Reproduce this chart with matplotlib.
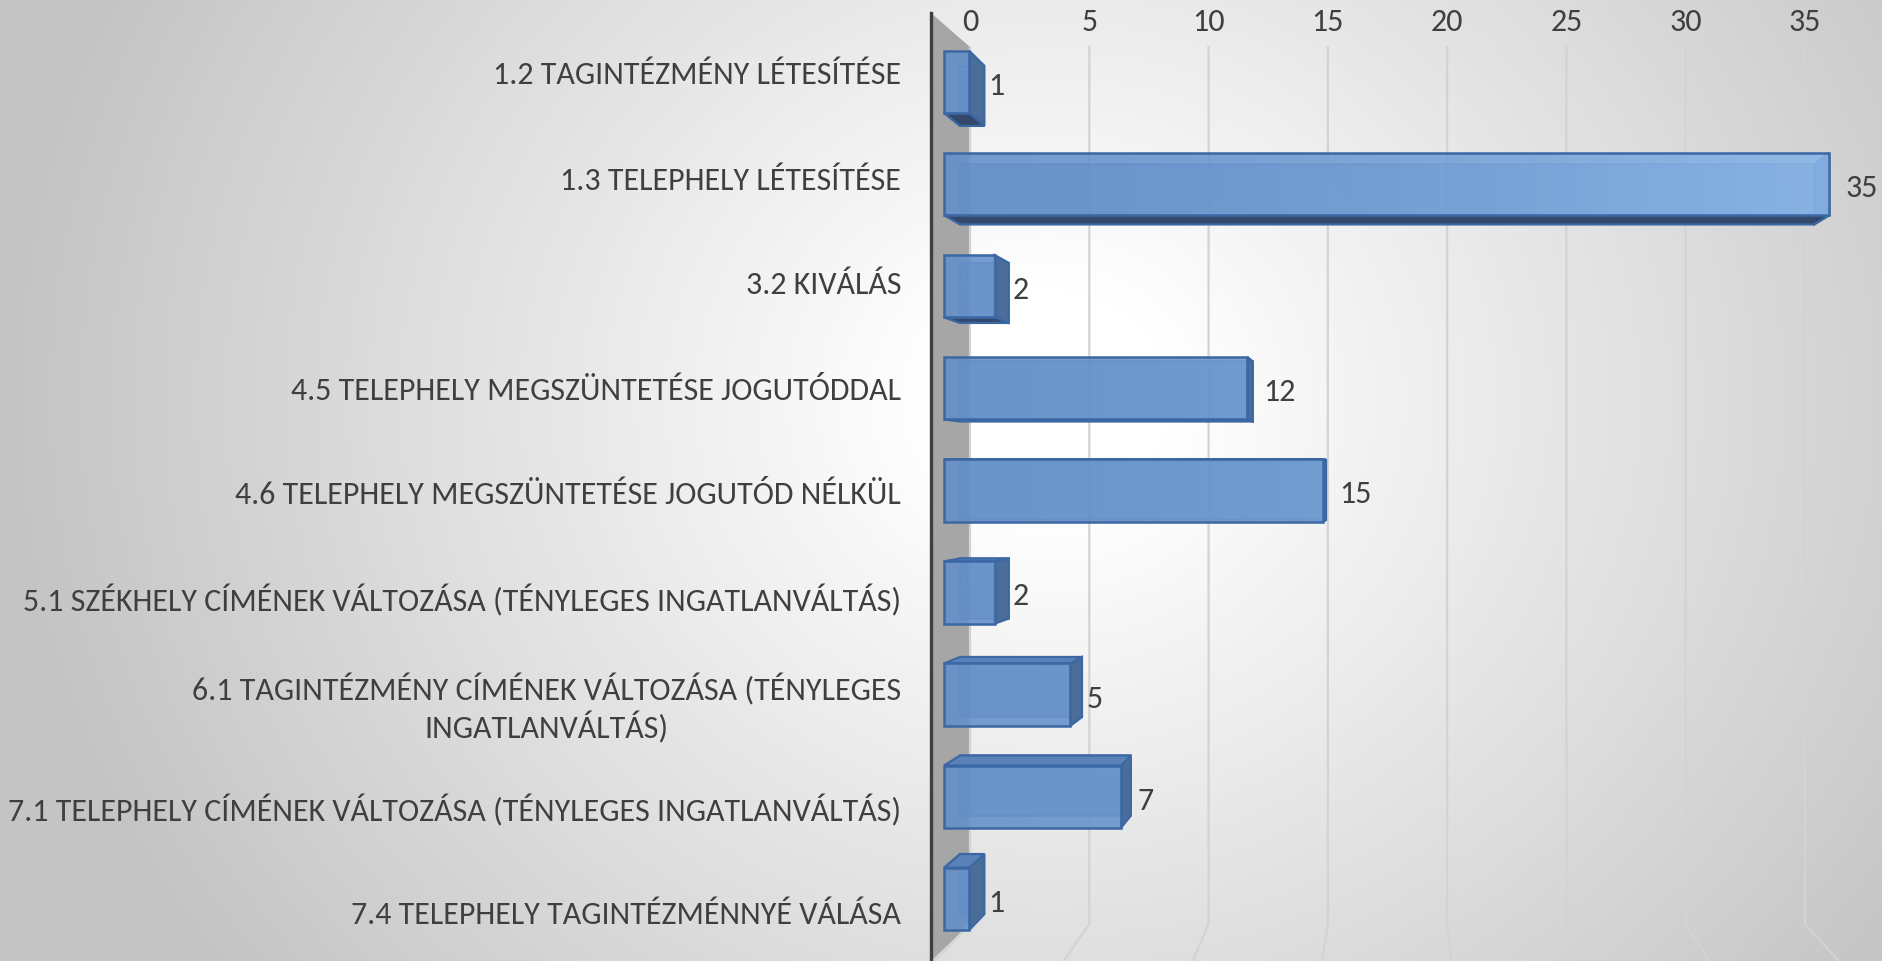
import numpy as np
import matplotlib
matplotlib.use("Agg")
import matplotlib.pyplot as plt
from matplotlib import font_manager
from matplotlib.colors import LinearSegmentedColormap
from matplotlib.patches import Polygon, Rectangle

# Data
categories = [
    "1.2 TAGINTÉZMÉNY LÉTESÍTÉSE",
    "1.3 TELEPHELY LÉTESÍTÉSE",
    "3.2 KIVÁLÁS",
    "4.5 TELEPHELY MEGSZÜNTETÉSE JOGUTÓDDAL",
    "4.6 TELEPHELY MEGSZÜNTETÉSE JOGUTÓD NÉLKÜL",
    "5.1 SZÉKHELY CÍMÉNEK VÁLTOZÁSA (TÉNYLEGES INGATLANVÁLTÁS)",
    "6.1 TAGINTÉZMÉNY CÍMÉNEK VÁLTOZÁSA (TÉNYLEGES\nINGATLANVÁLTÁS)",
    "7.1 TELEPHELY CÍMÉNEK VÁLTOZÁSA (TÉNYLEGES INGATLANVÁLTÁS)",
    "7.4 TELEPHELY TAGINTÉZMÉNNYÉ VÁLÁSA",
]
counts = [1, 35, 2, 12, 15, 2, 5, 7, 1]
x_ticks = [0, 5, 10, 15, 20, 25, 30, 35]

# Layout (pixels of the 1883x962 picture)
W, H = 1883, 962
AXIS_X, AXIS_TOP = 931, 14          # dark vertical axis line
WALL_TOP, FLOOR = 48, 925           # back wall top / floor line
X0_BACK, PX_BACK = 970, 23.857      # back plane: x of 0, px per unit
ROW0_BACK, ROW_BACK = 73, 105       # back plane: first row, row pitch
X0_FRONT, PX_FRONT = 944, 25.29     # front plane of the bars
ROW0_FRONT, ROW_FRONT = 83, 102.1
VP = (1400, 479)                    # vanishing point
BAR_DEPTH, WALL_DEPTH = 0.035, 0.057
BAR_H = 0.61

TEXT = "#3f3f3f"

# font: Calibri metric clone if present
installed = {f.name for f in font_manager.fontManager.ttflist}
font, fsize = "Lato", 22.5
for name, size in [("Carlito", 23), ("Lato", 22.5)]:
    if name in installed:
        font, fsize = name, size
        break
plt.rcParams["font.family"] = [font, "DejaVu Sans"]

fig = plt.figure(figsize=(W / 100, H / 100), dpi=100)

# background radial gradient
bg = fig.add_axes([0, 0, 1, 1], zorder=0)
yy, xx = np.mgrid[0:H, 0:W]
r = np.hypot(xx - 1050, (yy - 400) * 1.1)
t = np.clip((r - 120) / 920, 0, 1)
shade = 1 - 0.23 * t
bg.imshow(np.dstack([shade] * 3), extent=(0, W, H, 0), aspect="auto")
bg.set_xlim(0, W)
bg.set_ylim(H, 0)
bg.axis("off")

# back plane axes: x = value, y = category row
ax = fig.add_axes([AXIS_X / W, 0, 1 - AXIS_X / W, (H - AXIS_TOP) / H], zorder=1)
ax.set_facecolor("none")
ax.set_xlim((AXIS_X - X0_BACK) / PX_BACK, (W - X0_BACK) / PX_BACK)
ax.set_ylim((H - ROW0_BACK) / ROW_BACK, (AXIS_TOP - ROW0_BACK) / ROW_BACK)
wall_top = (WALL_TOP - ROW0_BACK) / ROW_BACK
floor = (FLOOR - ROW0_BACK) / ROW_BACK
x_left, _ = ax.get_xlim()
y_bottom, y_top = ax.get_ylim()

vpb = np.array([(VP[0] - X0_BACK) / PX_BACK, (VP[1] - ROW0_BACK) / ROW_BACK])

# grey side wall
ax.add_patch(Polygon([(x_left, y_top), (0, wall_top), (0, floor), (x_left, y_bottom)],
                     closed=True, facecolor="#a6a6a6", edgecolor="none", zorder=1))

# gridlines on the back wall, bending onto the floor
for v in x_ticks:
    back = np.array([v, floor])
    front = vpb + (back - vpb) / (1 - 2 * WALL_DEPTH)
    ax.plot([v, v, front[0]], [wall_top, floor, front[1]], color="#d3d3d3",
            lw=1.6, zorder=2, solid_joinstyle="miter")

ax.xaxis.tick_top()
ax.set_xticks(x_ticks)
ax.set_xticklabels([str(v) for v in x_ticks])
ax.tick_params(axis="x", length=0, pad=-16, labelsize=fsize, labelcolor=TEXT)
ax.set_yticks(range(len(categories)))
ax.set_yticklabels(categories)
ax.tick_params(axis="y", length=0, pad=21.5, labelsize=fsize, labelcolor=TEXT)
for lbl in ax.get_yticklabels():
    lbl.set_multialignment("center")
for side in ["top", "right", "bottom"]:
    ax.spines[side].set_visible(False)
ax.spines["left"].set_color("#3f3f3f")
ax.spines["left"].set_linewidth(2.4)

# front plane axes for the 3D bars
axf = fig.add_axes([0, 0, 1, 1], zorder=2)
axf.set_facecolor("none")
axf.set_xlim(-X0_FRONT / PX_FRONT, (W - X0_FRONT) / PX_FRONT)
axf.set_ylim((H - ROW0_FRONT) / ROW_FRONT, -ROW0_FRONT / ROW_FRONT)
axf.axis("off")
vpf = np.array([(VP[0] - X0_FRONT) / PX_FRONT, (VP[1] - ROW0_FRONT) / ROW_FRONT])


def to_back(p):
    p = np.asarray(p, dtype=float)
    return vpf + (p - vpf) * (1 - BAR_DEPTH)


edge = "#3b67a3"
cmap = LinearSegmentedColormap.from_list("bar", ["#6490ca", "#8ab6ea"])
x_span = 35  # longest bar sets the light direction

bars = axf.barh(range(len(counts)), counts, height=BAR_H, color="none",
                edgecolor="none")
for i, (rect, v) in enumerate(zip(bars, counts)):
    y0, y1 = i - BAR_H / 2, i + BAR_H / 2
    f = [(0, y0), (v, y0), (v, y1), (0, y1)]
    b = [to_back(p) for p in f]
    # hidden back edges, seen through the translucent front
    axf.add_patch(Polygon(b, closed=True, facecolor="#4f76ad", edgecolor=edge,
                          lw=1.4, alpha=0.55, zorder=3))
    # right face
    axf.add_patch(Polygon([f[1], b[1], b[2], f[2]], closed=True,
                          facecolor="#4b6d9a", edgecolor=edge, lw=1.6, zorder=4))
    # horizontal face: bottom for rows above the vanishing point, top below it
    if i < vpf[1]:
        axf.add_patch(Polygon([f[3], f[2], b[2], b[3]], closed=True,
                              facecolor="#33486a", edgecolor=edge, lw=1.6, zorder=4))
    else:
        axf.add_patch(Polygon([f[0], f[1], b[1], b[0]], closed=True,
                              facecolor="#5a81b8", edgecolor=edge, lw=1.6, zorder=4))
    # front face with light gradient
    face = Rectangle((0, y0), v, BAR_H, facecolor="none", edgecolor=edge,
                     lw=1.8, zorder=6)
    axf.add_patch(face)
    xs = np.linspace(0, v, 200) / x_span
    img = axf.imshow((xs ** 1.6)[None, :], cmap=cmap, vmin=0, vmax=1,
                     extent=(0, v, y1, y0), aspect="auto", alpha=0.88, zorder=5)
    img.set_clip_path(face)
    # value label
    back_right = to_back((v, i))[0]
    x_lab = max(v + 16 / PX_FRONT, back_right + 4 / PX_FRONT)
    axf.text(x_lab, i + 3 / ROW_FRONT, str(v), ha="left", va="center",
             fontsize=fsize, color=TEXT, zorder=7)

axf.set_xlim(-X0_FRONT / PX_FRONT, (W - X0_FRONT) / PX_FRONT)
axf.set_ylim((H - ROW0_FRONT) / ROW_FRONT, -ROW0_FRONT / ROW_FRONT)

fig.savefig("out.png", dpi=100)
